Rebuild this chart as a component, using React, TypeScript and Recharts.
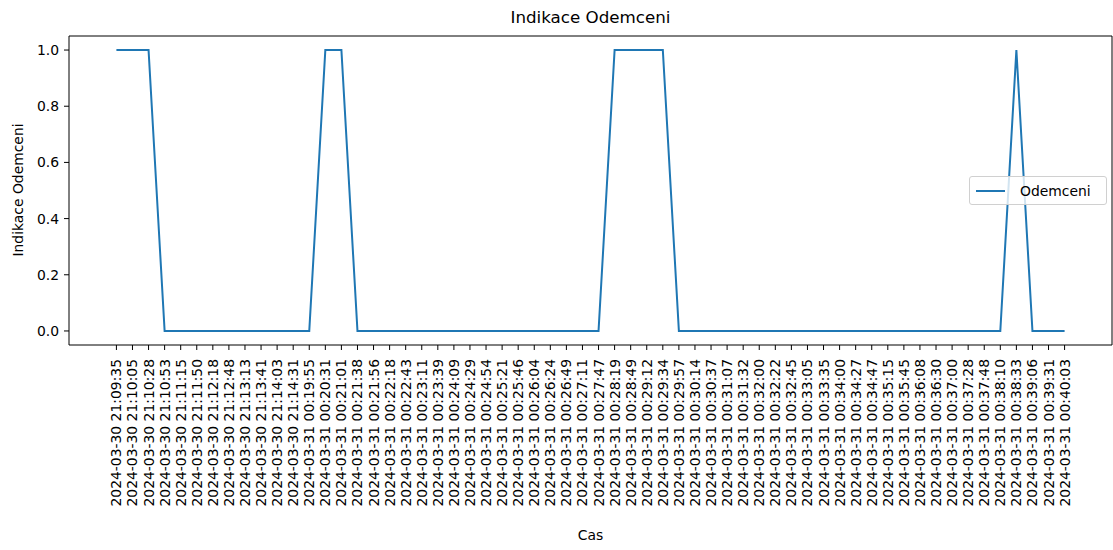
import React from 'react'
import { LineChart, Line, XAxis, YAxis, ReferenceLine } from 'recharts'

// casove znacky (osa x)
const times = [
  '2024-03-30 21:09:35', '2024-03-30 21:10:05', '2024-03-30 21:10:28', '2024-03-30 21:10:53',
  '2024-03-30 21:11:15', '2024-03-30 21:11:50', '2024-03-30 21:12:18', '2024-03-30 21:12:48',
  '2024-03-30 21:13:13', '2024-03-30 21:13:41', '2024-03-30 21:14:03', '2024-03-30 21:14:31',
  '2024-03-31 00:19:55', '2024-03-31 00:20:31', '2024-03-31 00:21:01', '2024-03-31 00:21:38',
  '2024-03-31 00:21:56', '2024-03-31 00:22:18', '2024-03-31 00:22:43', '2024-03-31 00:23:11',
  '2024-03-31 00:23:39', '2024-03-31 00:24:09', '2024-03-31 00:24:29', '2024-03-31 00:24:54',
  '2024-03-31 00:25:21', '2024-03-31 00:25:46', '2024-03-31 00:26:04', '2024-03-31 00:26:24',
  '2024-03-31 00:26:49', '2024-03-31 00:27:11', '2024-03-31 00:27:47', '2024-03-31 00:28:19',
  '2024-03-31 00:28:49', '2024-03-31 00:29:12', '2024-03-31 00:29:34', '2024-03-31 00:29:57',
  '2024-03-31 00:30:14', '2024-03-31 00:30:37', '2024-03-31 00:31:07', '2024-03-31 00:31:32',
  '2024-03-31 00:32:00', '2024-03-31 00:32:22', '2024-03-31 00:32:45', '2024-03-31 00:33:05',
  '2024-03-31 00:33:35', '2024-03-31 00:34:00', '2024-03-31 00:34:27', '2024-03-31 00:34:47',
  '2024-03-31 00:35:15', '2024-03-31 00:35:45', '2024-03-31 00:36:08', '2024-03-31 00:36:30',
  '2024-03-31 00:37:00', '2024-03-31 00:37:28', '2024-03-31 00:37:48', '2024-03-31 00:38:10',
  '2024-03-31 00:38:33', '2024-03-31 00:39:06', '2024-03-31 00:39:31', '2024-03-31 00:40:03',
]

// 1 = odemceno, 0 = zamceno
const unlocked = [
  1, 1, 1, 0, 0, 0, 0, 0, 0, 0, 0, 0,
  0, 1, 1, 0, 0, 0, 0, 0, 0, 0, 0, 0,
  0, 0, 0, 0, 0, 0, 0, 1, 1, 1, 1, 0,
  0, 0, 0, 0, 0, 0, 0, 0, 0, 0, 0, 0,
  0, 0, 0, 0, 0, 0, 0, 0, 1, 0, 0, 0,
]

const yTicks = [0, 0.2, 0.4, 0.6, 0.8, 1.0]

const data = times.map((t, i) => ({ i, t, value: unlocked[i] }))
const xTicks = data.map((d) => d.i)

const FONT = '"DejaVu Sans", sans-serif'
const BLUE = '#1f77b4'

// matplotlib-like 5% margins
const n = times.length
const xPad = (n - 1) * 0.05
const xDomain = [-xPad, n - 1 + xPad]
const yDomain = [-0.05, 1.05]

const RotatedTick = (props: any) => {
  const { x, y, payload } = props
  const ty = y + 5
  return (
    <text
      x={x}
      y={ty}
      transform={`rotate(-90, ${x}, ${ty})`}
      textAnchor="end"
      dominantBaseline="central"
      fontSize={13.9}
      fontFamily={FONT}
      fill="#000"
    >
      {times[payload.value]}
    </text>
  )
}

export default function App() {
  return (
    <div style={{ position: 'absolute', left: 0, top: 0, width: 1113, height: 550, fontFamily: FONT, background: '#fff' }}>
      <LineChart width={1113} height={550} data={data} margin={{ top: 36, right: 1, left: 0, bottom: 0 }}>
        <XAxis
          dataKey="i"
          type="number"
          domain={xDomain}
          ticks={xTicks}
          interval={0}
          allowDataOverflow
          height={205}
          tickSize={5}
          tickMargin={4}
          tickLine={{ stroke: '#000' }}
          axisLine={{ stroke: '#000' }}
          tick={<RotatedTick />}
        />
        <YAxis
          type="number"
          domain={yDomain}
          ticks={yTicks}
          allowDataOverflow
          width={69}
          tickSize={5}
          tickMargin={5}
          tickFormatter={(v: number) => v.toFixed(1)}
          tick={{ fontSize: 13.9, fill: '#000', fontFamily: FONT }}
          tickLine={{ stroke: '#000' }}
          axisLine={{ stroke: '#000' }}
        />
        {/* horni a prava hrana ramecku */}
        <ReferenceLine y={yDomain[1]} stroke="#000" strokeOpacity={1} ifOverflow="visible" />
        <ReferenceLine x={xDomain[1]} stroke="#000" strokeOpacity={1} ifOverflow="visible" />
        <Line
          type="linear"
          dataKey="value"
          stroke={BLUE}
          strokeWidth={2}
          dot={false}
          isAnimationActive={false}
        />
      </LineChart>

      {/* titulek a popisky os */}
      <div style={{ position: 'absolute', left: 69, width: 1043, top: 7, textAlign: 'center', fontSize: 16.7 }}>
        Indikace Odemceni
      </div>
      <div style={{ position: 'absolute', left: 69, width: 1043, top: 527, textAlign: 'center', fontSize: 13.9 }}>
        Cas
      </div>
      <div
        style={{
          position: 'absolute',
          left: 18,
          top: 190,
          transform: 'translate(-50%, -50%) rotate(-90deg)',
          whiteSpace: 'nowrap',
          fontSize: 13.9,
        }}
      >
        Indikace Odemceni
      </div>

      {/* legenda */}
      <div
        style={{
          position: 'absolute',
          left: 969,
          top: 176,
          width: 136,
          height: 27,
          border: '1px solid #d0d0d0',
          borderRadius: 3,
          background: 'rgba(255,255,255,0.8)',
          display: 'flex',
          alignItems: 'center',
          fontSize: 13.9,
        }}
      >
        <div style={{ marginLeft: 6, width: 29, height: 2, background: BLUE }} />
        <span style={{ marginLeft: 15 }}>Odemceni</span>
      </div>
    </div>
  )
}
